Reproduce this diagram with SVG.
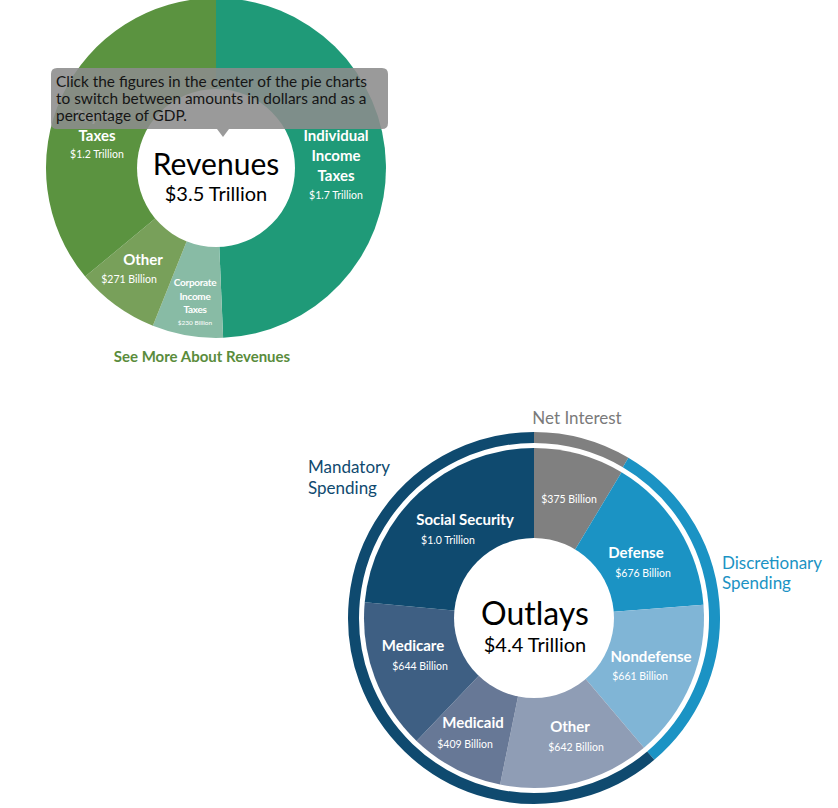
<svg xmlns="http://www.w3.org/2000/svg" width="838" height="808" viewBox="0 0 838 808">
<style>
text{font-family:Lato,"Liberation Sans",sans-serif;}
.lb{fill:#fff;font-weight:bold;font-size:15px;text-anchor:middle;}
.lbs{fill:#fff;font-weight:bold;font-size:10px;text-anchor:middle;letter-spacing:-0.3px;}
.vl{fill:#fff;font-size:10.5px;text-anchor:middle;}
.vls{fill:#fff;font-size:6.5px;text-anchor:middle;}
.ctr{fill:#000;text-anchor:middle;}
.grp{font-size:17px;}
.tip{font-size:15.4px;fill:#151515;}
</style>
<rect width="838" height="808" fill="#fff"/>
<g id="revenues">
<g id="rev-individual"><path d="M216,168 L216,-2 A170,170 0 0 1 223.12,337.85 Z" fill="#1f9a78"/></g>
<g id="rev-corporate"><path d="M216,168 L223.12,337.85 A170,170 0 0 1 152.86,325.84 Z" fill="#88bba5"/></g>
<g id="rev-other"><path d="M216,168 L152.86,325.84 A170,170 0 0 1 85.2,276.6 Z" fill="#78a05a"/></g>
<g id="rev-payroll"><path d="M216,168 L85.2,276.6 A170,170 0 0 1 216,-2 Z" fill="#5b9340"/></g>
<circle cx="216" cy="168" r="79" fill="#fff"/>
<g id="rev-center">
<text class="ctr" x="216" y="175" font-size="30">Revenues</text>
<text class="ctr" x="216" y="201" font-size="20">$3.5 Trillion</text>
</g>
<g id="rev-labels">
<text class="lb" x="336" y="141">Individual</text>
<text class="lb" x="336" y="161">Income</text>
<text class="lb" x="336" y="181">Taxes</text>
<text class="vl" x="336" y="199">$1.7 Trillion</text>
<text class="lb" x="97" y="121">Payroll</text>
<text class="lb" x="97" y="141">Taxes</text>
<text class="vl" x="97" y="158">$1.2 Trillion</text>
<text class="lb" x="143" y="265">Other</text>
<text class="vl" x="129" y="283">$271 Billion</text>
<text class="lbs" x="195" y="286">Corporate</text>
<text class="lbs" x="195" y="300">Income</text>
<text class="lbs" x="195" y="313">Taxes</text>
<text class="vls" x="195" y="325">$230 Billion</text>
</g>
<text id="rev-more" x="202" y="362" font-size="15" font-weight="bold" fill="#5a8c3c" text-anchor="middle">See More About Revenues</text>
</g>
<g id="tooltip">
<path d="M57,68 H382 Q388,68 388,74 V123 Q388,129 382,129 H229 L223,137 L217,129 H57 Q51,129 51,123 V74 Q51,68 57,68 Z" fill="#8c8c8c" fill-opacity="0.88"/>
<text class="tip" x="56" y="87">Click the figures in the center of the pie charts</text>
<text class="tip" x="56" y="104">to switch between amounts in dollars and as a</text>
<text class="tip" x="56" y="121">percentage of GDP.</text>
</g>
<g id="outlays">
<g id="ring">
<path d="M534,437.5 A180.5,180.5 0 0 1 625.6,462.48" fill="none" stroke="#808080" stroke-width="11"/>
<path d="M625.6,462.48 A180.5,180.5 0 0 1 650.75,755.67" fill="none" stroke="#1b93c4" stroke-width="11"/>
<path d="M650.75,755.67 A180.5,180.5 0 1 1 534,437.5" fill="none" stroke="#0f4a6f" stroke-width="11"/>
</g>
<g id="out-interest"><path d="M534,618 L534,448 A170,170 0 0 1 621.55,472.28 Z" fill="#808080"/></g>
<g id="out-defense"><path d="M534,618 L621.55,472.28 A170,170 0 0 1 703.48,604.66 Z" fill="#1b93c4"/></g>
<g id="out-nondefense"><path d="M534,618 L703.48,604.66 A170,170 0 0 1 643.96,747.66 Z" fill="#80b5d6"/></g>
<g id="out-other"><path d="M534,618 L643.96,747.66 A170,170 0 0 1 500.1,784.58 Z" fill="#8f9db5"/></g>
<g id="out-medicaid"><path d="M534,618 L500.1,784.58 A170,170 0 0 1 416.55,740.91 Z" fill="#677896"/></g>
<g id="out-medicare"><path d="M534,618 L416.55,740.91 A170,170 0 0 1 364.73,602.3 Z" fill="#3e5f83"/></g>
<g id="out-socsec"><path d="M534,618 L364.73,602.3 A170,170 0 0 1 534,448 Z" fill="#0f4a6f"/></g>
<circle cx="534" cy="618" r="80" fill="#fff"/>
<g id="out-center">
<text class="ctr" x="535" y="625" font-size="32">Outlays</text>
<text class="ctr" x="535" y="652" font-size="20">$4.4 Trillion</text>
</g>
<g id="out-labels">
<text class="vl" x="569" y="503">$375 Billion</text>
<text class="lb" x="465" y="525">Social Security</text>
<text class="vl" x="448" y="544">$1.0 Trillion</text>
<text class="lb" x="636" y="558">Defense</text>
<text class="vl" x="643" y="577">$676 Billion</text>
<text class="lb" x="651" y="662">Nondefense</text>
<text class="vl" x="640" y="680">$661 Billion</text>
<text class="lb" x="570" y="732">Other</text>
<text class="vl" x="576" y="751">$642 Billion</text>
<text class="lb" x="473" y="728">Medicaid</text>
<text class="vl" x="465" y="748">$409 Billion</text>
<text class="lb" x="413" y="651">Medicare</text>
<text class="vl" x="420" y="670">$644 Billion</text>
</g>
<g id="group-labels">
<text class="grp" x="577" y="424" fill="#7a7a7a" text-anchor="middle">Net Interest</text>
<text class="grp" x="308" y="473" fill="#0f4a6f">Mandatory</text>
<text class="grp" x="308" y="494" fill="#0f4a6f">Spending</text>
<text class="grp" x="722" y="569" fill="#1b93c4">Discretionary</text>
<text class="grp" x="722" y="589" fill="#1b93c4">Spending</text>
</g>
</g>
</svg>
